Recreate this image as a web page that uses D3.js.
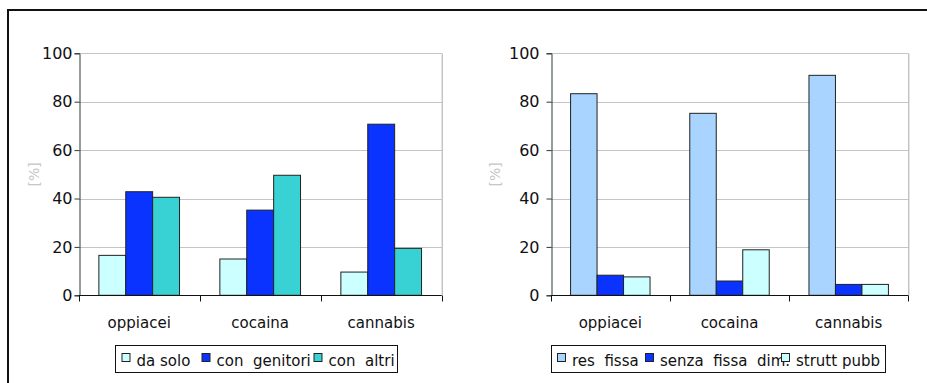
<!DOCTYPE html>
<html>
<head>
<meta charset="utf-8">
<script src="https://cdn.jsdelivr.net/npm/d3@7"></script>
<style>
  html, body { margin: 0; padding: 0; background: #fff; }
  svg { display: block; font-family: "DejaVu Sans", Verdana, sans-serif; }
</style>
</head>
<body>
<div id="chart"></div>
<script>
const categories = ["oppiacei", "cocaina", "cannabis"]
const yTicks = [0, 20, 40, 60, 80, 100]

// grafico sinistro: con chi vive
const leftSeries = ["da solo", "con  genitori", "con  altri"]
const daSolo = [16.5, 15.0, 9.6]
const conGenitori = [42.8, 35.2, 70.7]
const conAltri = [40.5, 49.6, 19.4]

// grafico destro: condizione abitativa
const rightSeries = ["res  fissa", "senza  fissa  dim.", "strutt pubb"]
const resFissa = [83.3, 75.2, 90.9]
const senzaFissa = [8.3, 5.9, 4.5]
const struttPubb = [7.6, 18.8, 4.5]

const width = 927
const height = 383

const svg = d3.select("#chart").append("svg")
  .attr("width", width)
  .attr("height", height)

// cornice esterna
svg.append("path")
  .attr("d", `M${width},10 H8 V${height}`)
  .attr("fill", "none")
  .attr("stroke", "#111")
  .attr("stroke-width", 2)

function drawChart(opts) {
  const { left, right, top, bottom, series, values, colors, labelGap, yLabelX, legend } = opts

  const x0 = d3.scaleBand().domain(categories).range([left, right])
  const bw = x0.bandwidth()
  const gap = bw * 0.75 / 4.5
  const x1 = d3.scaleBand().domain(series).range([gap, bw - gap])
  const y = d3.scaleLinear().domain([0, 100]).range([bottom, top])

  const g = svg.append("g")

  // griglia
  g.selectAll("line.grid")
    .data(yTicks.filter(t => t > 0))
    .join("line")
    .attr("x1", left).attr("x2", right)
    .attr("y1", d => Math.round(y(d)) + 0.5).attr("y2", d => Math.round(y(d)) + 0.5)
    .attr("stroke", "#c4c4c4")

  // bordo destro area grafico
  g.append("line")
    .attr("x1", right + 0.5).attr("x2", right + 0.5)
    .attr("y1", Math.round(y(100)) + 0.5).attr("y2", bottom)
    .attr("stroke", "#a8a8a8")

  // barre
  categories.forEach((cat, ci) => {
    series.forEach((s, si) => {
      const v = values[si][ci]
      g.append("rect")
        .attr("x", x0(cat) + x1(s))
        .attr("y", y(v))
        .attr("width", x1.bandwidth())
        .attr("height", y(0) - y(v))
        .attr("fill", colors[si])
        .attr("stroke", "#222")
        .attr("stroke-width", 1)
    })
  })

  // asse y
  g.append("g")
    .attr("transform", `translate(${Math.round(left) + 0.5},0)`)
    .call(d3.axisLeft(y).tickValues(yTicks).tickSize(5).tickPadding(labelGap))
    .call(a => a.select(".domain").attr("stroke", "#2a3a3a"))
    .call(a => a.selectAll(".tick line").attr("stroke", "#2a3a3a"))
    .call(a => a.selectAll(".tick text")
      .attr("font-family", "DejaVu Sans")
      .attr("font-size", 16)
      .attr("fill", "#111"))

  // asse x
  const xAxis = g.append("g")
    .attr("transform", `translate(0,${Math.round(bottom) + 0.5})`)
  xAxis.append("line")
    .attr("x1", left).attr("x2", right)
    .attr("stroke", "#111")
  xAxis.selectAll("line.tk")
    .data(d3.range(categories.length + 1))
    .join("line")
    .attr("x1", i => Math.round(left + i * bw) + 0.5)
    .attr("x2", i => Math.round(left + i * bw) + 0.5)
    .attr("y1", 0).attr("y2", 6)
    .attr("stroke", "#111")
  xAxis.selectAll("text")
    .data(categories)
    .join("text")
    .attr("x", d => x0(d) + bw / 2)
    .attr("y", 32)
    .attr("text-anchor", "middle")
    .attr("font-size", 15)
    .attr("fill", "#111")
    .text(d => d)

  // etichetta asse y
  g.append("text")
    .attr("transform", `translate(${yLabelX},${y(50)}) rotate(-90)`)
    .attr("text-anchor", "middle")
    .attr("dy", "0.35em")
    .attr("font-size", 14)
    .attr("fill", "#c6c6c6")
    .text("[%]")

  // legenda
  const lg = svg.append("g")
  const clipId = "clip" + Math.round(legend.x)
  svg.append("clipPath").attr("id", clipId)
    .append("rect")
    .attr("x", legend.x).attr("y", legend.y)
    .attr("width", legend.w).attr("height", legend.h)
  lg.append("rect")
    .attr("x", legend.x + 0.5).attr("y", legend.y + 0.5)
    .attr("width", legend.w).attr("height", legend.h)
    .attr("fill", "#fff")
    .attr("stroke", "#111")
  const items = lg.append("g").attr("clip-path", `url(#${clipId})`)
  series.forEach((s, si) => {
    items.append("text")
      .attr("x", legend.x + legend.offsets[si] + 15)
      .attr("y", legend.y + 21)
      .attr("font-size", 15)
      .attr("fill", "#111")
      .style("white-space", "pre")
      .text(s)
  })
  series.forEach((s, si) => {
    items.append("rect")
      .attr("x", legend.x + legend.offsets[si] + 0.5)
      .attr("y", legend.y + 8.5)
      .attr("width", 8).attr("height", 8)
      .attr("fill", colors[si])
      .attr("stroke", "#222")
  })
}

drawChart({
  left: 78.7, right: 441.7, top: 53.3, bottom: 295.3,
  series: leftSeries,
  values: [daSolo, conGenitori, conAltri],
  colors: ["#ccffff", "#0a33ff", "#38d2d4"],
  labelGap: 2,
  yLabelX: 34,
  legend: { x: 115, y: 345, w: 282, h: 27, offsets: [6.5, 86.5, 198.5] }
})

drawChart({
  left: 550.7, right: 908.3, top: 53.3, bottom: 295.3,
  series: rightSeries,
  values: [resFissa, senzaFissa, struttPubb],
  colors: ["#a8d4ff", "#0a33ff", "#ccffff"],
  labelGap: 7,
  yLabelX: 495,
  legend: { x: 551, y: 345, w: 334, h: 27, offsets: [6, 94, 230] }
})
</script>
</body>
</html>
